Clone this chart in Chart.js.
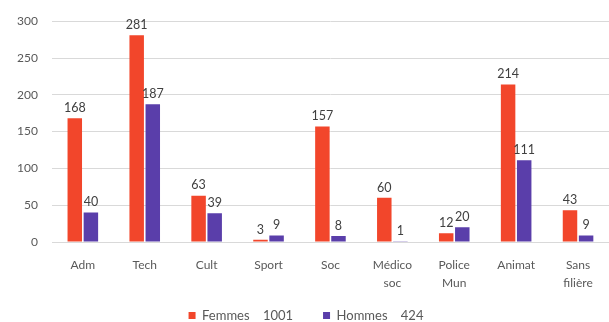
<!DOCTYPE html>
<html lang="fr">
<head>
<meta charset="UTF-8">
<title>Femmes / Hommes par filière</title>
<script src="https://cdn.jsdelivr.net/npm/chart.js"></script>
<style>
  html, body { margin: 0; padding: 0; background: #fff; }
  #wrap { width: 609px; height: 322px; }
</style>
</head>
<body>
<div id="wrap"><canvas id="chart"></canvas></div>
<script>
const categories = ['Adm', 'Tech', 'Cult', 'Sport', 'Soc', ['Médico', 'soc'], ['Police', 'Mun'], 'Animat', ['Sans', 'filière']];
const femmes = [168, 281, 63, 3, 157, 60, 12, 214, 43];
const hommes = [40, 187, 39, 9, 8, 1, 20, 111, 9];
const seriesLabels = ['Femmes    1001   ', 'Hommes    424'];
const yTicks = [0, 50, 100, 150, 200, 250, 300];

// values above each bar (no datalabels plugin available offline)
const valueLabels = {
  id: 'valueLabels',
  afterDatasetsDraw(chart) {
    const ctx = chart.ctx;
    ctx.save();
    ctx.font = '12.5px Lato';
    ctx.fillStyle = '#404040';
    ctx.textAlign = 'center';
    ctx.textBaseline = 'bottom';
    chart.data.datasets.forEach((ds, i) => {
      chart.getDatasetMeta(i).data.forEach((bar, j) => {
        ctx.fillText(ds.data[j], bar.x, bar.y - 4);
      });
    });
    ctx.restore();
  }
};

new Chart(document.getElementById('chart'), {
  type: 'bar',
  data: {
    labels: categories,
    datasets: [
      { label: seriesLabels[0], data: femmes, backgroundColor: '#F2462B' },
      { label: seriesLabels[1], data: hommes, backgroundColor: '#5A3EAA' }
    ]
  },
  options: {
    responsive: true,
    maintainAspectRatio: false,
    animation: false,
    layout: { padding: { top: 21, right: 0, left: 3, bottom: -10 } },
    datasets: { bar: { categoryPercentage: 0.52, barPercentage: 0.9 } },
    plugins: {
      legend: {
        position: 'bottom',
        labels: { boxWidth: 7, boxHeight: 7, color: '#595959', font: { family: 'Lato', size: 13 }, padding: 20 }
      },
      tooltip: { enabled: false }
    },
    scales: {
      x: {
        grid: { display: false },
        border: { display: false },
        afterFit: scale => { scale.height = 47; },
        ticks: { color: '#595959', font: { family: 'Lato', size: 12, lineHeight: 1.5 }, maxRotation: 0, padding: 6 }
      },
      y: {
        min: 0,
        max: 300,
        afterBuildTicks: axis => { axis.ticks = yTicks.map(v => ({ value: v })); },
        grid: { color: '#d9d9d9', drawTicks: false },
        border: { display: false },
        ticks: { color: '#595959', font: { family: 'Lato', size: 12 }, padding: 14 }
      }
    }
  },
  plugins: [valueLabels]
});
</script>
</body>
</html>
